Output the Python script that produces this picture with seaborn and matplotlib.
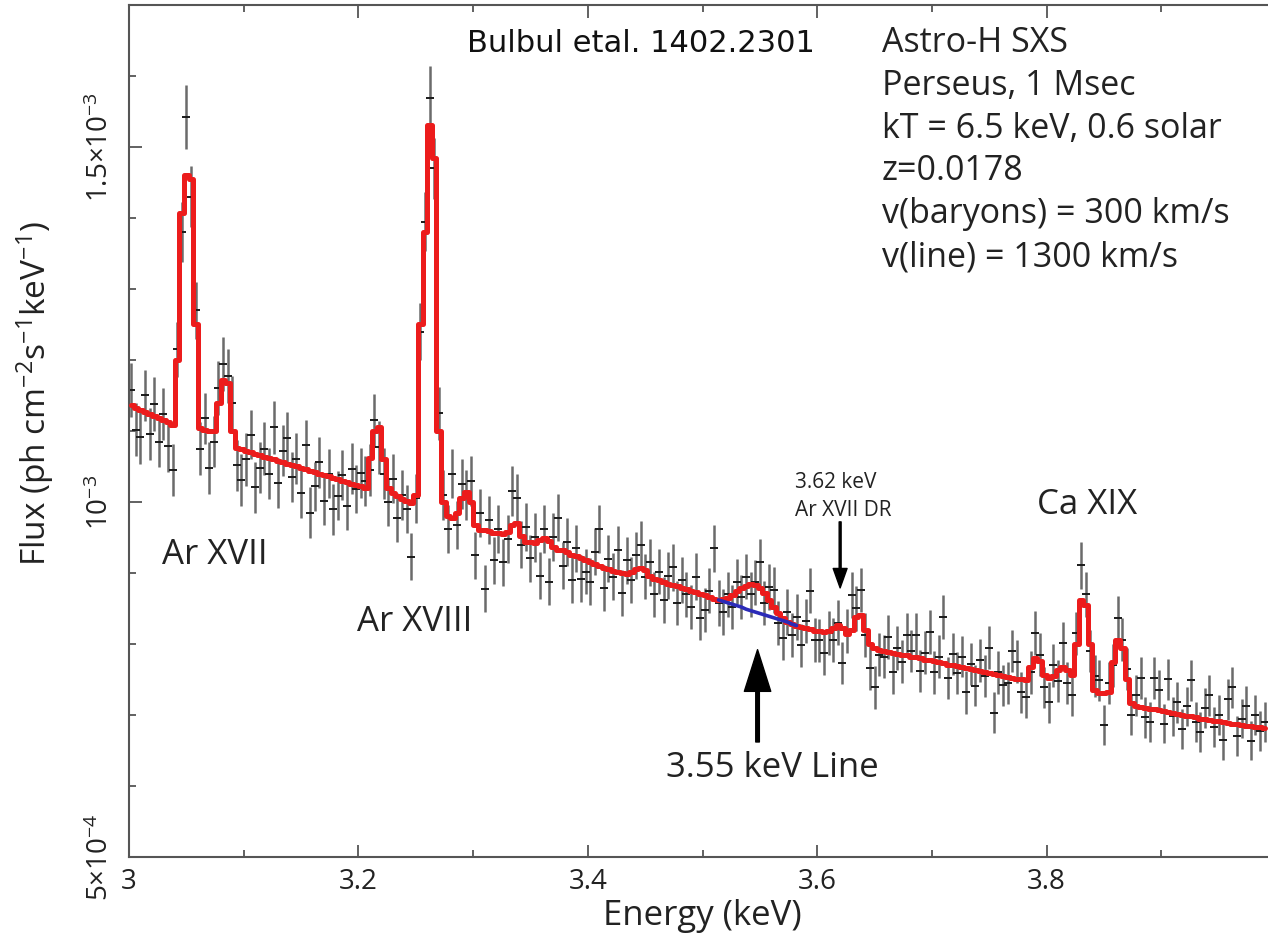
import numpy as np
import pandas as pd
import matplotlib
matplotlib.use("Agg")
import matplotlib.pyplot as plt
from matplotlib.ticker import MultipleLocator, FixedLocator, FixedFormatter
import seaborn as sns

# ---------------------------------------------------------------
# Spectrum: 4 eV bins, bin centres from 3.002 keV
# ---------------------------------------------------------------
BIN_START = 3.002
BIN_WIDTH = 0.004
UNIT = 1e-6  # flux values below are in 1e-6 ph cm^-2 s^-1 keV^-1

# observed flux per bin
flux_obs = [
    1158, 1102, 1091, 1150, 1096, 1138, 1085, 1124, 1079, 1045,
    1215, 1380, 1542, 1430, 1270, 1075, 1118, 1048, 1085, 1160,
    1195, 1178, 1140, 1052, 1031, 1060, 1095, 1021, 1048, 1075,
    1040, 1105, 1027, 1072, 1090, 1035, 1061, 1013, 1080, 985,
    1022, 1056, 1002, 1040, 990, 1009, 1038, 995, 1047, 1018,
    1041, 1030, 1045, 1115, 1077, 1040, 1000, 1033, 978, 1010,
    990, 923, 1005, 1240, 1395, 1569, 1470, 1125, 1010, 962,
    1040, 968, 1025, 1010, 1030, 925, 985, 878, 975, 918,
    962, 915, 948, 1015, 1005, 940, 965, 921, 950, 896,
    962, 888, 951, 978, 910, 944, 890, 935, 892, 902,
    888, 930, 962, 879, 920, 895, 933, 872, 918, 890,
    925, 940, 895, 915, 870, 902, 862, 896, 908, 858,
    890, 870, 852, 895, 837, 848, 875, 935, 858, 845,
    870, 852, 888, 866, 895, 870, 887, 915, 858, 880,
    876, 830, 808, 845, 812, 838, 798, 832, 875, 806,
    805, 787, 815, 806, 830, 773, 818, 869, 850, 876,
    812, 766, 739, 785, 782, 810, 760, 795, 775, 813,
    790, 812, 762, 788, 817, 760, 782, 838, 752, 786,
    759, 782, 732, 772, 741, 777, 755, 795, 703, 760,
    742, 745, 790, 775, 732, 725, 760, 815, 785, 739,
    718, 770, 748, 801, 745, 728, 815, 911, 870, 790,
    755, 749, 686, 745, 770, 837, 806, 765, 700, 728,
    752, 697, 690, 752, 735, 688, 750, 698, 718, 680,
    712, 749, 690, 676, 710, 728, 683, 700, 665, 722,
    739, 670, 695, 712, 664, 700, 678, 690,
]

# 1-sigma uncertainty per bin
flux_err = [
    38, 37, 38, 36, 37, 38, 36, 37, 37, 36,
    39, 42, 45, 43, 40, 37, 36, 37, 36, 38,
    38, 38, 37, 36, 36, 37, 35, 36, 36, 37,
    36, 37, 35, 36, 37, 35, 36, 35, 36, 36,
    35, 36, 35, 35, 36, 34, 35, 35, 36, 34,
    35, 35, 36, 37, 37, 36, 34, 35, 34, 35,
    34, 33, 35, 40, 42, 45, 43, 37, 35, 34,
    35, 34, 35, 35, 35, 33, 34, 33, 34, 33,
    34, 33, 34, 35, 35, 33, 34, 33, 34, 33,
    34, 33, 34, 33, 33, 34, 32, 33, 33, 32,
    33, 33, 34, 32, 33, 33, 33, 32, 33, 32,
    33, 33, 32, 33, 32, 32, 32, 33, 33, 31,
    32, 32, 31, 33, 32, 31, 32, 33, 32, 32,
    32, 31, 32, 31, 32, 32, 32, 33, 31, 32,
    32, 31, 31, 32, 31, 32, 30, 31, 32, 31,
    30, 31, 31, 31, 32, 30, 31, 32, 32, 31,
    31, 31, 30, 30, 30, 31, 30, 31, 30, 31,
    30, 31, 30, 30, 31, 30, 30, 31, 29, 30,
    30, 29, 30, 30, 29, 30, 29, 30, 29, 30,
    29, 30, 30, 30, 29, 29, 30, 31, 30, 29,
    29, 30, 29, 30, 29, 29, 30, 33, 32, 30,
    30, 29, 28, 29, 30, 31, 30, 30, 28, 29,
    29, 29, 28, 29, 29, 28, 29, 28, 29, 28,
    28, 29, 28, 28, 28, 29, 28, 28, 28, 29,
    29, 28, 28, 29, 28, 28, 28, 28,
]

# folded best-fit model (thermal plasma + 3.55 keV line)
flux_model = [
    1136, 1133, 1130, 1127, 1124, 1121, 1118, 1115, 1112, 1109,
    1200, 1407, 1461, 1455, 1250, 1104, 1101, 1100, 1100, 1140,
    1172, 1168, 1100, 1076, 1074, 1072, 1070, 1068, 1066, 1064,
    1062, 1060, 1058, 1056, 1054, 1052, 1050, 1048, 1046, 1044,
    1042, 1040, 1038, 1036, 1034, 1032, 1030, 1028, 1026, 1024,
    1022, 1020, 1062, 1100, 1106, 1060, 1020, 1012, 1008, 1004,
    1001, 999, 1010, 1250, 1380, 1531, 1484, 1100, 1000, 980,
    977, 985, 1005, 1014, 1000, 968, 961, 960, 959, 957,
    956, 955, 958, 968, 970, 952, 944, 943, 942, 946,
    949, 945, 936, 933, 932, 929, 926, 924, 921, 918,
    915, 912, 910, 907, 905, 903, 901, 900, 899, 902,
    906, 907, 904, 896, 892, 890, 888, 885, 883, 881,
    879, 877, 875, 873, 871, 869, 866, 864, 862, 863,
    865, 869, 874, 879, 882, 884, 883, 879, 872, 862,
    852, 843, 836, 831, 828, 826, 824, 822, 821, 819,
    818, 817, 818, 823, 827, 822, 814, 820, 838, 841,
    820, 800, 794, 792, 790, 789, 788, 786, 785, 784,
    782, 781, 780, 778, 777, 776, 774, 773, 771, 770,
    769, 768, 766, 765, 763, 762, 760, 759, 758, 756,
    755, 754, 752, 751, 750, 749, 768, 780, 776, 756,
    752, 755, 764, 768, 764, 756, 800, 862, 855, 800,
    735, 731, 731, 733, 775, 806, 795, 750, 717, 713,
    711, 710, 709, 708, 707, 705, 704, 703, 702, 700,
    699, 698, 697, 695, 694, 693, 692, 691, 690, 689,
    688, 687, 686, 685, 684, 683, 683, 682,
]

# continuum alone beneath the 3.55 keV feature
CONT_START = 3.514
flux_cont = [862, 860, 858, 856, 854, 852, 849, 847, 845,
             843, 841, 839, 837, 835, 833, 831, 828, 826]

x_ticks = [3.0, 3.2, 3.4, 3.6, 3.8]
x_ticklabels = ["3", "3.2", "3.4", "3.6", "3.8"]
y_ticks = [5e-4, 1e-3, 1.5e-3]
y_ticklabels = [r"$5{\times}10^{-4}$", r"$10^{-3}$", r"$1.5{\times}10^{-3}$"]

info_lines = ["Astro-H SXS", "Perseus, 1 Msec", "kT = 6.5 keV, 0.6 solar",
              "z=0.0178", "v(baryons) = 300 km/s", "v(line) = 1300 km/s"]

# ---------------------------------------------------------------
energy = BIN_START + BIN_WIDTH * np.arange(len(flux_obs))
spec = pd.DataFrame({
    "energy": energy,
    "flux": np.array(flux_obs) * UNIT,
    "err": np.array(flux_err) * UNIT,
    "model": np.array(flux_model) * UNIT,
})
cont = pd.DataFrame({
    "energy": CONT_START + BIN_WIDTH * np.arange(len(flux_cont)),
    "flux": np.array(flux_cont) * UNIT,
})

sns.set_theme(style="ticks")
plt.rcParams["font.family"] = ["Open Sans", "DejaVu Sans"]
plt.rcParams["mathtext.fontset"] = "custom"
plt.rcParams["mathtext.rm"] = "Open Sans"
plt.rcParams["mathtext.it"] = "Open Sans"
plt.rcParams["mathtext.default"] = "regular"

W, H = 1268, 944
fig = plt.figure(figsize=(W / 100, H / 100), dpi=100)
fig.patch.set_facecolor("white")
# plot frame: left edge at 129 px, top at 5 px, bottom at 857 px; runs past the right border
ax = fig.add_axes([129 / W, (H - 857) / H, 1147 / W, 852 / H])
ax.set_facecolor("white")

ax.errorbar(spec["energy"], spec["flux"], yerr=spec["err"], fmt="_",
            color="#1a1a1a", ms=6, mew=1.4, ecolor="#6b6b6b",
            elinewidth=1.8, capsize=0, zorder=2)
sns.lineplot(data=spec, x="energy", y="model", drawstyle="steps-mid",
             color="#ec1c1c", lw=3.6, estimator=None, sort=False,
             ax=ax, zorder=3)
sns.lineplot(data=cont, x="energy", y="flux", color="#2b2bb8", lw=2.6,
             estimator=None, sort=False, ax=ax, zorder=4)

ax.set_xlim(3.0, 4.0)
ax.set_ylim(5e-4, 1.7e-3)
ax.xaxis.set_major_locator(FixedLocator(x_ticks))
ax.xaxis.set_major_formatter(FixedFormatter(x_ticklabels))
ax.xaxis.set_minor_locator(MultipleLocator(0.1))
ax.yaxis.set_major_locator(FixedLocator(y_ticks))
ax.yaxis.set_major_formatter(FixedFormatter(y_ticklabels))
ax.yaxis.set_minor_locator(MultipleLocator(1e-4))

spine_c = "#555555"
for s in ax.spines.values():
    s.set_color(spine_c)
    s.set_linewidth(1.5)
ax.tick_params(which="both", direction="in", top=True, right=False,
               color=spine_c, width=1.3)
ax.tick_params(which="major", length=9)
ax.tick_params(which="minor", length=5)
ax.tick_params(axis="x", which="major", labelsize=20, pad=8, labelcolor="#222222")
ax.tick_params(axis="y", which="major", labelsize=20, pad=10, labelcolor="#222222",
               labelrotation=90)
for lab in ax.get_yticklabels():
    lab.set_va("center")

ax.set_xlabel("Energy (keV)", fontsize=25, color="#222222", labelpad=2)
ax.set_ylabel(r"Flux (ph cm$^{-2}$s$^{-1}$keV$^{-1}$)", fontsize=24,
              color="#222222")
ax.yaxis.label.set_va("center")
ax.yaxis.set_label_coords((35 - 129) / 1147, (857 - 394) / 852)


def fx(px):
    return px / W


def fy(py):
    return 1 - py / H


fig.text(fx(467), fy(43), "Bulbul etal. 1402.2301", family="DejaVu Sans",
         fontsize=22, ha="left", va="center", color="#111111")
for i, line in enumerate(info_lines):
    fig.text(fx(882), fy(43 + 42.8 * i), line, fontsize=24.5, ha="left",
             va="center", color="#222222")

fig.text(fx(162), fy(555), "Ar XVII", fontsize=25, ha="left", va="center", color="#222222")
fig.text(fx(357), fy(622), "Ar XVIII", fontsize=25, ha="left", va="center", color="#222222")
fig.text(fx(1037), fy(505), "Ca XIX", fontsize=25, ha="left", va="center", color="#222222")
fig.text(fx(772), fy(768), "3.55 keV Line", fontsize=25, ha="center", va="center", color="#222222")
fig.text(fx(795), fy(482), "3.62 keV", fontsize=15, ha="left", va="center", color="#222222")
fig.text(fx(795), fy(510), "Ar XVII DR", fontsize=15, ha="left", va="center", color="#222222")

# arrows marking the 3.55 keV feature and the Ar XVII DR line
ax.annotate("", xy=(3.548, 7.92e-4), xytext=(3.548, 6.62e-4),
            arrowprops=dict(facecolor="black", edgecolor="black", width=2.6,
                            headwidth=19, headlength=30, shrink=0))
ax.annotate("", xy=(3.620, 8.79e-4), xytext=(3.620, 9.72e-4),
            arrowprops=dict(facecolor="black", edgecolor="black", width=1.4,
                            headwidth=10, headlength=14, shrink=0))

fig.savefig("out.png", dpi=100, facecolor="white")
